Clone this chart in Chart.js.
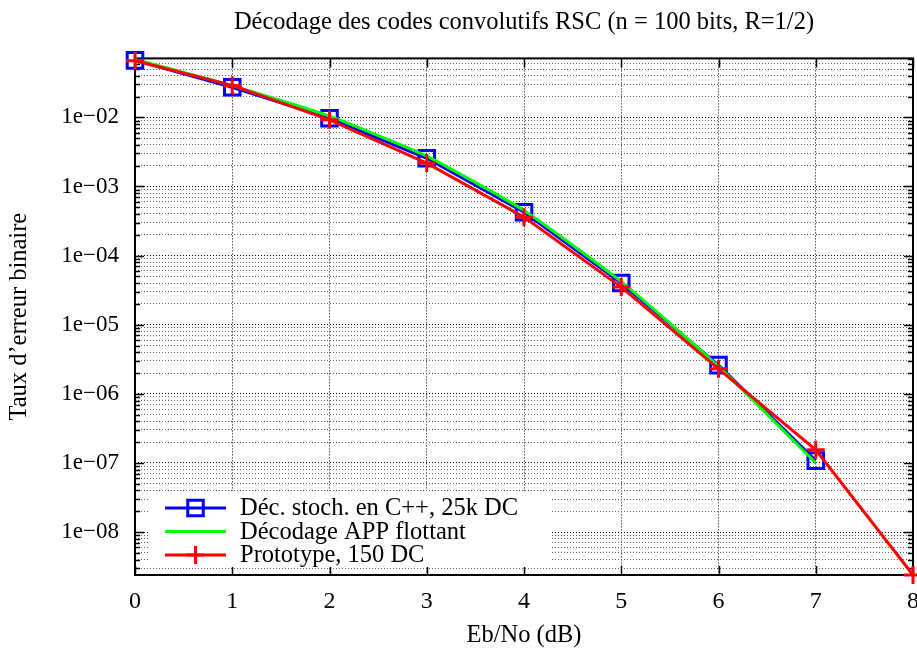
<!DOCTYPE html>
<html>
<head>
<meta charset="utf-8">
<title>Décodage des codes convolutifs RSC</title>
<script src="https://cdn.jsdelivr.net/npm/chart.js@4.4.1/dist/chart.umd.min.js"></script>
<style>
  html, body { margin: 0; padding: 0; background: #fff; overflow: hidden; }
  canvas { display: block; }
</style>
</head>
<body>
<canvas id="ber" width="917" height="650"></canvas>
<script>
// --- data ---
const ebno      = [0, 1, 2, 3, 4, 5, 6, 7, 8];
const berStoch  = [0.0667, 0.0272, 0.0097, 0.00256, 4.24e-4, 4.0e-5, 2.6e-6, 1.08e-7];
const berApp    = [0.069, 0.0288, 0.0104, 0.00275, 4.5e-4, 4.2e-5, 2.5e-6, 1.0e-7];
const berProto  = [0.066, 0.0290, 0.0092, 0.00218, 3.6e-4, 3.5e-5, 2.3e-6, 1.55e-7, 2.39e-9];
const seriesNames = ["Déc. stoch. en C++, 25k DC", "Décodage APP flottant", "Prototype, 150 DC"];
const xTicks = [0, 1, 2, 3, 4, 5, 6, 7, 8];
const yDecades = [-9, -8, -7, -6, -5, -4, -3, -2];
const yRange = [2.39e-9, 0.0713];

const SERIF = "'Liberation Serif', 'Times New Roman', serif";
const TEXT_SIZE = 24.5;
Chart.defaults.font.family = SERIF;
Chart.defaults.color = '#000';

const pts = (vals) => vals.map((v, i) => ({ x: ebno[i], y: v }));
const isDecade = (v) => Math.abs(Math.log10(v) - Math.round(Math.log10(v))) < 1e-9;

// 1..9 x 10^e inside the y range
function logTicks() {
  const out = [];
  yDecades.forEach(e => {
    for (let m = 1; m <= 9; m++) {
      const v = m * Math.pow(10, e);
      if (v >= yRange[0] && v <= yRange[1]) out.push({ value: v });
    }
  });
  return out;
}

function keyBox(a) {
  return { left: a.left + 15, top: a.bottom - 84, width: 400, height: 76 };
}

// frame, inward tick marks and the key box (gnuplot look)
const framePlugin = {
  id: 'frame',
  beforeDatasetsDraw(chart) {
    const { ctx, chartArea: a, scales: { x, y } } = chart;
    ctx.save();
    ctx.strokeStyle = '#000';
    ctx.lineWidth = 1.5;
    ctx.beginPath();
    y.ticks.forEach(t => {
      const py = Math.round(y.getPixelForValue(t.value)) + 0.5;
      const len = isDecade(t.value) ? 9 : 5;
      ctx.moveTo(a.left, py); ctx.lineTo(a.left + len, py);
      ctx.moveTo(a.right, py); ctx.lineTo(a.right - len, py);
    });
    x.ticks.forEach(t => {
      const px = Math.round(x.getPixelForValue(t.value)) + 0.5;
      ctx.moveTo(px, a.bottom); ctx.lineTo(px, a.bottom - 9);
      ctx.moveTo(px, a.top); ctx.lineTo(px, a.top + 9);
    });
    ctx.stroke();
    ctx.lineWidth = 2;
    ctx.strokeRect(a.left, a.top, a.right - a.left, a.bottom - a.top);

    // key area hides the grid
    const k = keyBox(a);
    ctx.fillStyle = '#fff';
    ctx.fillRect(k.left, k.top, k.width, k.height);
    ctx.restore();
  },
  afterDatasetsDraw(chart) {
    const { ctx, chartArea: a } = chart;
    const k = keyBox(a);
    ctx.save();
    ctx.font = TEXT_SIZE + 'px ' + SERIF;
    ctx.textBaseline = 'middle';
    ctx.textAlign = 'left';
    chart.data.datasets.forEach((ds, row) => {
      const cy = k.top + 17 + row * 23.5;
      const x0 = k.left + 15, x1 = k.left + 76, xm = (x0 + x1) / 2;
      ctx.strokeStyle = ds.borderColor;
      ctx.lineWidth = ds.borderWidth;
      ctx.beginPath();
      ctx.moveTo(x0, cy); ctx.lineTo(x1, cy);
      ctx.stroke();
      if (ds.pointRadius > 0) {
        ctx.lineWidth = ds.pointBorderWidth;
        ctx.strokeStyle = ds.pointBorderColor;
        ctx.beginPath();
        if (ds.pointStyle === 'rect') {
          const s = ds.pointRadius * Math.SQRT1_2;
          ctx.rect(xm - s, cy - s, 2 * s, 2 * s);
        } else {
          const r = ds.pointRadius;
          ctx.moveTo(xm - r, cy); ctx.lineTo(xm + r, cy);
          ctx.moveTo(xm, cy - r); ctx.lineTo(xm, cy + r);
        }
        ctx.stroke();
      }
      ctx.fillStyle = '#000';
      ctx.fillText(ds.label, k.left + 90, cy + 1);
    });
    ctx.restore();
  }
};

new Chart(document.getElementById('ber'), {
  type: 'line',
  data: {
    datasets: [
      {
        label: seriesNames[0],
        data: pts(berStoch),
        borderColor: '#0000ff',
        borderWidth: 3,
        pointStyle: 'rect',
        pointRadius: 11,
        pointBorderWidth: 3,
        pointBorderColor: '#0000ff',
        pointBackgroundColor: 'rgba(0,0,0,0)',
        tension: 0,
        clip: false,
        order: 3
      },
      {
        label: seriesNames[1],
        data: pts(berApp),
        borderColor: '#00ff00',
        borderWidth: 3,
        pointRadius: 0,
        tension: 0.15,
        clip: false,
        order: 2
      },
      {
        label: seriesNames[2],
        data: pts(berProto),
        borderColor: '#ff0000',
        borderWidth: 3,
        pointStyle: 'cross',
        pointRadius: 9,
        pointBorderWidth: 3,
        pointBorderColor: '#ff0000',
        tension: 0,
        clip: false,
        order: 1
      }
    ]
  },
  options: {
    responsive: false,
    animation: false,
    // markers at the ends are allowed to overlap the frame
    layout: { autoPadding: false, padding: { left: 0, right: 4, top: 0, bottom: 0 } },
    plugins: {
      legend: { display: false },
      tooltip: { enabled: false },
      title: {
        display: true,
        text: 'Décodage des codes convolutifs RSC (n = 100 bits, R=1/2)',
        fullSize: false,
        font: { size: TEXT_SIZE, weight: 'normal' },
        padding: { top: 8, bottom: 21 }
      }
    },
    scales: {
      x: {
        type: 'linear',
        min: 0,
        max: 8,
        afterBuildTicks: (s) => { s.ticks = xTicks.map(v => ({ value: v })); },
        afterFit: (s) => { s.height = 75; s.paddingLeft = 0; s.paddingRight = 0; },
        ticks: { font: { size: 24 }, padding: 12, maxRotation: 0, autoSkip: false },
        grid: { color: '#000', lineWidth: 1, drawTicks: false },
        border: { display: false, dash: [1, 2] },
        title: { display: true, text: 'Eb/No (dB)', font: { size: TEXT_SIZE }, padding: { top: 0, bottom: 0 } }
      },
      y: {
        type: 'logarithmic',
        min: yRange[0],
        max: yRange[1],
        afterBuildTicks: (s) => { s.ticks = logTicks(); },
        afterFit: (s) => { s.width = 135; s.paddingTop = 0; s.paddingBottom = 0; },
        ticks: {
          font: { size: 23 },
          padding: 16,
          autoSkip: false,
          callback: (v) => {
            if (!isDecade(v)) return '';
            const e = Math.round(Math.log10(v));
            return '1e\u2212' + String(-e).padStart(2, '0');
          }
        },
        grid: {
          drawTicks: false,
          lineWidth: 1,
          color: (c) => (c.tick && isDecade(c.tick.value)) ? '#000' : '#666'
        },
        border: { display: false, dash: [1, 2] },
        title: { display: true, text: 'Taux d’erreur binaire', font: { size: TEXT_SIZE }, padding: { top: 5, bottom: 0 } }
      }
    }
  },
  plugins: [framePlugin]
});
</script>
</body>
</html>
